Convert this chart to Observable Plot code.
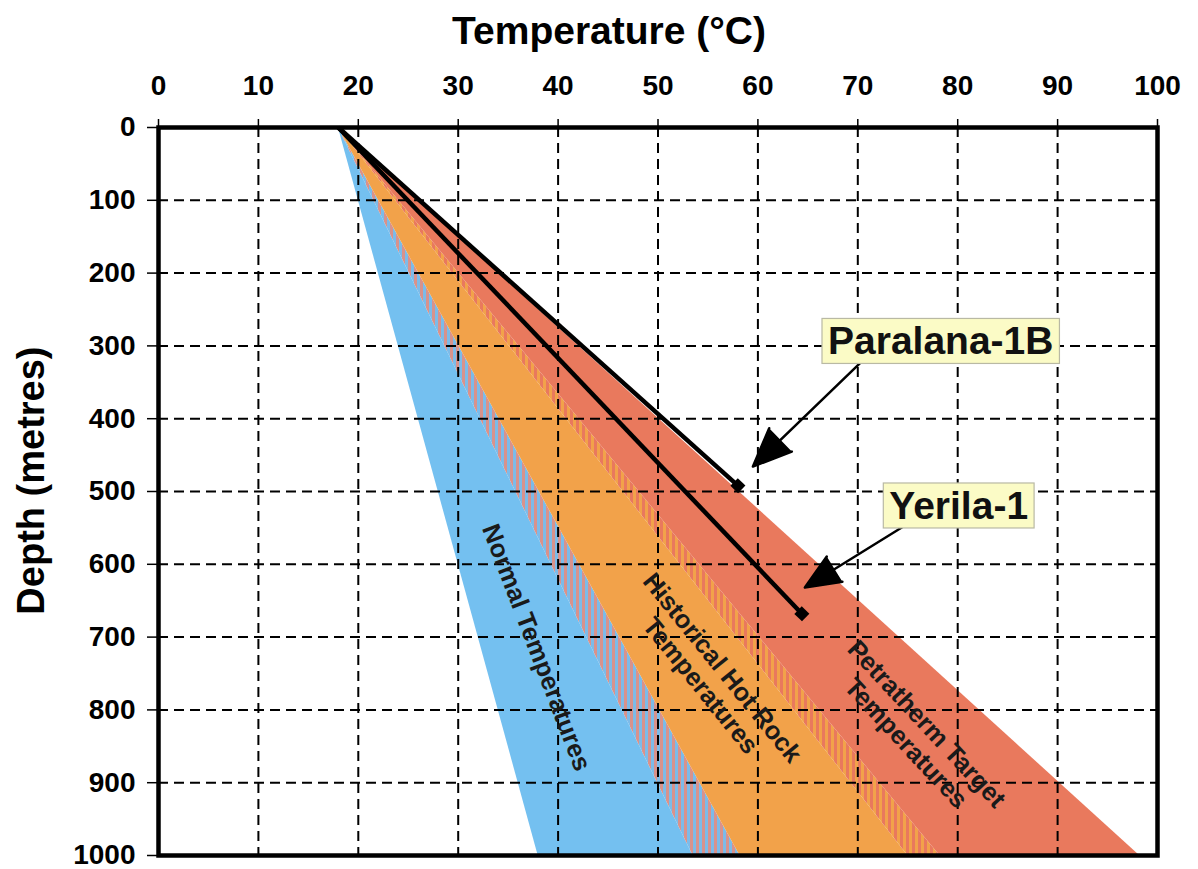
<!DOCTYPE html>
<html>
<head>
<meta charset="utf-8">
<script src="https://cdn.jsdelivr.net/npm/d3@7"></script>
<script src="https://cdn.jsdelivr.net/npm/@observablehq/plot@0.6"></script>
<style>
  html, body { margin: 0; padding: 0; background: #fff; }
  #chart svg { display: block; }
</style>
</head>
<body>
<div id="chart"></div>
<script>
// ---------------- data ----------------
const xTicks = [0, 10, 20, 30, 40, 50, 60, 70, 80, 90, 100];
const yTicks = [0, 100, 200, 300, 400, 500, 600, 700, 800, 900, 1000];

const surfaceTemp = 18;          // °C at 0 m, shared origin of all bands and wells
const baseDepth = 1000;          // m

// temperature bands (values at 1000 m)
const bandNames = ["Normal", "Normal-Historical transition", "Historical Hot Rock", "Historical-Petratherm transition", "Petratherm Target"];
const bandLowAtBase  = [38.0, 53.5, 58.2, 75.0, 78.2];
const bandHighAtBase = [53.5, 58.2, 75.0, 78.2, 98.2];

// band labels
const bandLabels = ["Normal Temperatures", "Historical Hot Rock\nTemperatures", "Petratherm Target\nTemperatures"];
const bandLabelTemp  = [37.9, 55.4, 75.9];
const bandLabelDepth = [714, 754, 832];
const bandLabelAngle = [69, 51, 47];

// wells
const wellNames = ["Paralana-1B", "Yerila-1"];
const wellTdTemp  = [58.0, 64.4];
const wellTdDepth = [492, 668];

// callouts
const calloutTemp  = [78.3, 80.1];
const calloutDepth = [294.6, 520.6];
const arrowFromTemp  = [70.2, 74.4];
const arrowFromDepth = [324, 549.5];
const arrowToTemp    = [59.5, 64.7];
const arrowToDepth   = [465.7, 631.9];

// titles
const xTitle = "Temperature (°C)";
const yTitle = "Depth (metres)";
const xTitleTemp = 45.1;
const yTitleDepth = 485;

// ---------------- build ----------------
const bandFill = ["#74c0f0", "url(#hatchBlue)", "#f2a24a", "url(#hatchOrange)", "#e9795d"];
const bandMarks = bandNames.map((name, i) =>
  Plot.areaX(
    [{depth: 0, lo: surfaceTemp, hi: surfaceTemp}, {depth: baseDepth, lo: bandLowAtBase[i], hi: bandHighAtBase[i]}],
    {y: "depth", x1: "lo", x2: "hi", fill: bandFill[i]}
  )
);

const wIdx = d3.range(wellNames.length);
const lIdx = d3.range(bandLabels.length);
const font = "'Liberation Sans', Arial, Helvetica, sans-serif";

const plot = Plot.plot({
  width: 1198,
  height: 869,
  marginLeft: 158,
  marginRight: 41,
  marginTop: 127,
  marginBottom: 14,
  style: {fontFamily: font, color: "black", background: "white", overflow: "visible"},
  x: {domain: [0, 100]},
  y: {domain: [0, 1000], reverse: true},
  marks: [
    ...bandMarks,
    Plot.gridX(xTicks.slice(1, -1), {stroke: "black", strokeOpacity: 1, strokeWidth: 2, strokeDasharray: "10,6"}),
    Plot.gridY(yTicks.slice(1, -1), {stroke: "black", strokeOpacity: 1, strokeWidth: 2, strokeDasharray: "10,6"}),
    Plot.link(wIdx, {x1: () => surfaceTemp, y1: () => 0, x2: i => wellTdTemp[i], y2: i => wellTdDepth[i], stroke: "black", strokeWidth: 4.5}),
    Plot.dot(wIdx, {x: i => wellTdTemp[i], y: i => wellTdDepth[i], symbol: "square", r: 6, fill: "black", stroke: "none", rotate: 44}),
    Plot.arrow(wIdx, {x1: i => arrowFromTemp[i], y1: i => arrowFromDepth[i], x2: i => arrowToTemp[i], y2: i => arrowToDepth[i],
      stroke: "black", fill: "black", strokeWidth: 2.5, headLength: 25, headAngle: 46, strokeLinejoin: "miter"}),
    Plot.text(wIdx, {x: i => calloutTemp[i], y: i => calloutDepth[i], text: i => wellNames[i],
      fontSize: 39, fontWeight: "bold", fill: "#111"}),
    Plot.text(lIdx, {x: i => bandLabelTemp[i], y: i => bandLabelDepth[i], text: i => bandLabels[i],
      rotate: i => bandLabelAngle[i], fontSize: 25.5, fontWeight: "bold", fill: "#1a1a1a", lineHeight: 1.1}),
    Plot.frame({stroke: "black", strokeWidth: 4.5}),
    Plot.axisX({anchor: "top", ticks: xTicks, tickFormat: d => String(d), tickSize: 9, tickPadding: 24, fontSize: 28, fontWeight: "bold", strokeWidth: 1.5, label: null}),
    Plot.axisY({anchor: "left", ticks: yTicks, tickFormat: d => String(d), tickSize: 11, tickPadding: 12, fontSize: 28, fontWeight: "bold", strokeWidth: 1.5, label: null}),
    Plot.text([xTitle], {x: () => xTitleTemp, frameAnchor: "top", dy: -96, lineAnchor: "middle", textAnchor: "middle", fontSize: 39, fontWeight: "bold"}),
    Plot.text([yTitle], {y: () => yTitleDepth, frameAnchor: "left", dx: -127, rotate: -90, lineAnchor: "middle", textAnchor: "middle", fontSize: 38, fontWeight: "bold"})
  ]
});

document.getElementById("chart").appendChild(plot);

// hatch patterns for transition zones
const svg = d3.select(plot);
const defs = svg.insert("defs", ":first-child");
function hatch(id, a, b) {
  const p = defs.append("pattern").attr("id", id).attr("patternUnits", "userSpaceOnUse").attr("width", 6).attr("height", 10);
  p.append("rect").attr("width", 6).attr("height", 10).attr("fill", a);
  p.append("rect").attr("width", 3).attr("height", 10).attr("fill", b);
}
hatch("hatchBlue", "#7cbbe9", "#d8928c");
hatch("hatchOrange", "#f2a24a", "#e9795d");

// callout boxes behind well labels (same transform as the text they frame)
svg.selectAll("text").filter(function () { return wellNames.includes(this.textContent); }).each(function () {
  const bb = this.getBBox();
  const padX = 6, padY = 1;
  d3.select(this.parentNode).insert("rect", () => this)
    .attr("transform", this.getAttribute("transform"))
    .attr("x", bb.x - padX).attr("y", bb.y - padY)
    .attr("width", bb.width + 2 * padX).attr("height", bb.height + 2 * padY)
    .attr("fill", "#fbfbc6").attr("stroke", "#b9b9a4").attr("stroke-width", 1.2);
});
</script>
</body>
</html>
